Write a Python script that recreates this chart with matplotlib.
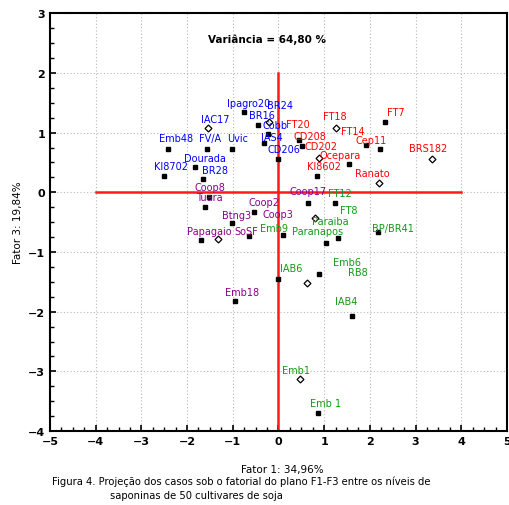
import matplotlib
matplotlib.use("Agg")
import matplotlib.pyplot as plt
from matplotlib.ticker import MultipleLocator

plt.rcParams['font.family'] = ['DejaVu Sans']

# Cultivar scores on factor 1 (x) and factor 3 (y), grouped by cluster colour
blue_names = ["Ipagro20", "IAC17", "Emb48", "FV/A", "Uvic", "KI8702", "Dourada",
              "BR28", "BR16", "BR24", "Cobb", "IAS4", "CD206"]
blue_x = [-0.75, -1.54, -2.42, -1.56, -1.01, -2.51, -1.82, -1.65, -0.44, -0.20, -0.22, -0.31, 0.00]
blue_y = [1.35, 1.07, 0.72, 0.72, 0.72, 0.27, 0.43, 0.22, 1.12, 1.17, 0.97, 0.82, 0.55]

red_names = ["FT7", "FT18", "FT14", "Cep11", "BRS182", "Ranato", "Ocepara",
             "CD202", "KI8602", "CD208", "FT20"]
red_x = [2.33, 1.25, 1.91, 2.22, 3.36, 2.20, 1.54, 0.88, 0.84, 0.51, 0.46]
red_y = [1.18, 1.08, 0.80, 0.73, 0.55, 0.15, 0.48, 0.57, 0.27, 0.78, 0.87]

purple_names = ["Coop8", "Tuara", "Btng3", "Papagaio", "SoSF", "Coop2", "Coop3",
                "Coop17", "Emb18"]
purple_x = [-1.52, -1.60, -1.01, -1.69, -1.32, -0.53, -0.64, 0.64, -0.95]
purple_y = [-0.08, -0.25, -0.52, -0.80, -0.78, -0.33, -0.73, -0.18, -1.82]

green_names = ["FT12", "FT8", "Emb9", "Paranapos", "Paraiba", "BP/BR41", "IAB6",
               "Emb6", "RB8", "IAB4", "Emb1", "Emb 1"]
green_x = [1.23, 0.79, 0.09, 1.05, 1.30, 2.18, -0.02, 0.88, 0.62, 1.60, 0.48, 0.86]
green_y = [-0.18, -0.43, -0.72, -0.85, -0.77, -0.67, -1.45, -1.37, -1.52, -2.08, -3.12, -3.70]

# Cases drawn with the open marker instead of a filled square
open_marker = {"IAC17", "BR24", "FT18", "BRS182", "Ranato", "CD202", "SoSF",
               "FT8", "RB8", "Emb1"}

# Label placement relative to each point, in pixels (default below)
label_offsets = {
    "Ipagro20": (-17, 9), "IAC17": (-7, 9), "Emb48": (-9, 11), "FV/A": (-8, 11),
    "Uvic": (-5, 11), "KI8702": (-10, 10), "Dourada": (-11, 9), "BR28": (-1, 9),
    "BR16": (-9, 10), "BR24": (-2, 17), "Cobb": (-6, 9), "IAS4": (-3, 6),
    "CD206": (-11, 10),
    "FT7": (2, 10), "FT18": (-13, 12), "FT14": (-25, 14), "Cep11": (-24, 9),
    "BRS182": (-23, 11), "Ranato": (-24, 10), "Ocepara": (-29, 9),
    "CD202": (-14, 12), "KI8602": (-10, 10), "CD208": (-8, 10), "FT20": (-13, 16),
    "Coop8": (-15, 10), "Tuara": (-9, 10), "Btng3": (-10, 8), "Papagaio": (-14, 9),
    "SoSF": (16, 8), "Coop2": (-6, 10), "Coop3": (13, 22), "Coop17": (-18, 12),
    "Emb18": (-10, 9),
    "FT12": (-7, 10), "FT8": (25, 8), "Emb9": (-23, 7), "Paranapos": (-34, 12),
    "Paraiba": (-26, 17), "BP/BR41": (-6, 4), "IAB6": (2, 11), "Emb6": (14, 12),
    "RB8": (41, 11), "IAB4": (-17, 15), "Emb1": (-18, 9), "Emb 1": (-8, 10),
}

groups = [
    (blue_names, blue_x, blue_y, "#0000ff"),
    (red_names, red_x, red_y, "#ff0000"),
    (purple_names, purple_x, purple_y, "#8b008b"),
    (green_names, green_x, green_y, "#139a13"),
]

x_ticks = [-5, -4, -3, -2, -1, 0, 1, 2, 3, 4, 5]
y_ticks = [-4, -3, -2, -1, 0, 1, 2, 3]

fig = plt.figure(figsize=(5.10, 5.06), dpi=100)
ax = fig.add_axes([0.098, 0.146, 0.896, 0.826])
ax.set_xlim(-5, 5)
ax.set_ylim(-4, 3)

ax.set_xticks(x_ticks)
ax.set_yticks(y_ticks)
ax.xaxis.set_minor_locator(MultipleLocator(0.25))
ax.yaxis.set_minor_locator(MultipleLocator(0.25))
ax.tick_params(which="both", direction="in", top=False, right=False)
ax.tick_params(which="major", length=4, width=1.2, labelsize=8)
ax.tick_params(which="minor", length=3, width=1.0)
for lab in ax.get_xticklabels() + ax.get_yticklabels():
    lab.set_fontweight("bold")
for sp in ax.spines.values():
    sp.set_linewidth(1.5)

ax.grid(True, which="major", linestyle=(0, (1, 2)), color="#b8b8b8", linewidth=0.8)
ax.set_axisbelow(True)

# Reference axes through the origin
ax.plot([-4, 4], [0, 0], color="#ff1a1a", linewidth=1.8, zorder=2)
ax.plot([0, 0], [-4, 2], color="#ff1a1a", linewidth=1.8, zorder=2)

for names, xs, ys, col in groups:
    for n, x, y in zip(names, xs, ys):
        if n in open_marker:
            ax.plot(x, y, marker="D", markersize=3.5, markerfacecolor="white",
                    markeredgecolor="black", markeredgewidth=0.9, zorder=3)
        else:
            ax.plot(x, y, marker="s", markersize=2.8, color="black", zorder=3)
        dx, dy = label_offsets.get(n, (-5, 9))
        ax.annotate(n, (x, y), xytext=(dx, dy), textcoords="offset pixels",
                    ha="left", va="center", fontsize=7, color=col, zorder=4)

ax.text(-0.24, 2.57, "Variância = 64,80 %", ha="center", va="center",
        fontsize=7.5, fontweight="bold")

fig.text(0.553, 0.071, "Fator 1: 34,96%", ha="center", va="center", fontsize=7.5)
fig.text(0.035, 0.56, "Fator 3: 19,84%", ha="center", va="center",
         rotation=90, fontsize=7.5)
fig.text(0.102, 0.047,
         "Figura 4. Projeção dos casos sob o fatorial do plano F1-F3 entre os níveis de",
         ha="left", va="center", fontsize=7.2)
fig.text(0.216, 0.020, "saponinas de 50 cultivares de soja",
         ha="left", va="center", fontsize=7.2)

fig.savefig("out.png", dpi=100)
